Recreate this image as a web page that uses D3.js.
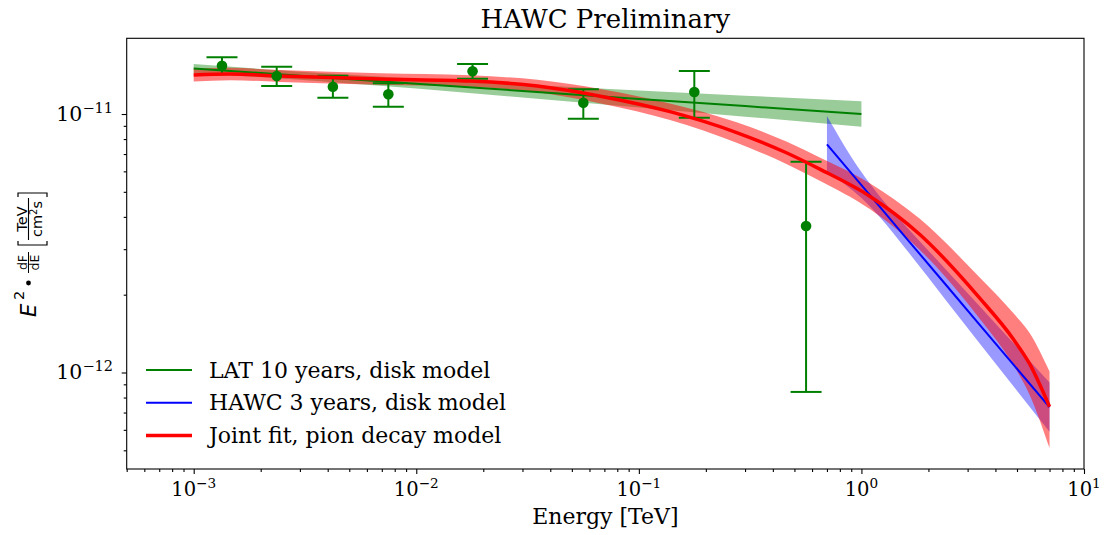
<!DOCTYPE html>
<html>
<head>
<meta charset="utf-8">
<script src="https://cdn.jsdelivr.net/npm/d3@7"></script>
<style>
  body { margin: 0; background: #fff; }
  text { font-family: "DejaVu Serif", serif; fill: #000; }
  .math { font-family: "DejaVu Sans", sans-serif; }
</style>
</head>
<body>
<svg id="chart" width="1107" height="535"></svg>
<script>
// LAT flux points (TeV, TeV cm^-2 s^-1)
var latE   = [1.34e-3, 2.36e-3, 4.22e-3, 7.49e-3, 1.79e-2, 5.63e-2, 0.1775, 0.564];
var latF   = [1.538e-11, 1.403e-11, 1.275e-11, 1.192e-11, 1.463e-11, 1.106e-11, 1.216e-11, 3.69e-12];
var latHi  = [1.657e-11, 1.524e-11, 1.406e-11, 1.315e-11, 1.561e-11, 1.246e-11, 1.466e-11, 6.54e-12];
var latLo  = [1.427e-11, 1.283e-11, 1.156e-11, 1.067e-11, 1.370e-11, 9.59e-12, 9.67e-12, 8.41e-13];

// LAT 10 years, disk model
var lmE  = [0.001, 0.003, 0.01, 0.03, 0.1, 0.3, 1.0];
var lmF  = [1.500e-11, 1.406e-11, 1.310e-11, 1.228e-11, 1.144e-11, 1.073e-11, 1.000e-11];
var lmHi = [1.562e-11, 1.457e-11, 1.369e-11, 1.302e-11, 1.234e-11, 1.178e-11, 1.121e-11];
var lmLo = [1.441e-11, 1.357e-11, 1.254e-11, 1.158e-11, 1.060e-11, 9.77e-12, 8.92e-12];

// HAWC 3 years, disk model
var hwE  = [0.7, 1.0, 1.2, 1.6, 2.4, 3.4, 7.0];
var hwF  = [7.63e-12, 5.31e-12, 4.41e-12, 3.29e-12, 2.18e-12, 1.529e-12, 7.34e-13];
var hwHi = [9.83e-12, 5.96e-12, 4.84e-12, 3.65e-12, 2.50e-12, 1.804e-12, 9.14e-13];
var hwLo = [5.98e-12, 4.73e-12, 4.02e-12, 2.97e-12, 1.90e-12, 1.296e-12, 5.90e-13];

// Joint fit, pion decay model
var pdE  = [0.001, 0.00146, 0.00244, 0.0069, 0.0175, 0.035, 0.069, 0.138, 0.275, 0.46, 0.65, 1.09, 1.83, 3.4, 4.8, 5.7, 7.0];
var pdF  = [1.415e-11, 1.428e-11, 1.403e-11, 1.366e-11, 1.342e-11, 1.283e-11, 1.167e-11, 1.021e-11, 8.48e-12, 7.08e-12, 6.12e-12, 4.81e-12, 3.42e-12, 1.94e-12, 1.351e-12, 1.079e-12, 7.37e-13];
var pdHi = [1.498e-11, 1.509e-11, 1.479e-11, 1.437e-11, 1.412e-11, 1.356e-11, 1.245e-11, 1.099e-11, 9.29e-12, 7.82e-12, 6.79e-12, 5.40e-12, 3.93e-12, 2.33e-12, 1.701e-12, 1.422e-12, 1.01e-12];
var pdLo = [1.336e-11, 1.351e-11, 1.331e-11, 1.298e-11, 1.276e-11, 1.214e-11, 1.094e-11, 9.49e-12, 7.74e-12, 6.41e-12, 5.52e-12, 4.29e-12, 2.98e-12, 1.614e-12, 1.073e-12, 8.19e-13, 5.10e-13];

var xMajor = [1e-3, 1e-2, 1e-1, 1e0, 1e1];
var xMajorExp = ["\u22123", "\u22122", "\u22121", "0", "1"];
var yMajor = [1e-12, 1e-11];
var yMajorExp = ["\u221212", "\u221211"];

var legendItems = [
  {label: "LAT 10 years, disk model", color: "green", w: 2},
  {label: "HAWC 3 years, disk model", color: "blue", w: 2},
  {label: "Joint fit, pion decay model", color: "red", w: 3.5}
];

// Plot area
// ==============================
var plot = {left: 126.7, right: 1084, top: 38.3, bottom: 469};
var svg = d3.select("#chart");

var x = d3.scaleLog().domain([5e-4, 10]).range([plot.left, plot.right]);
var y = d3.scaleLog().domain([4.233e-13, 1.963e-11]).range([plot.bottom, plot.top]);

function minorTicks(lo, hi) {
  var out = [];
  for (var e = lo; e <= hi; e++) {
    for (var m = 2; m <= 9; m++) out.push(m * Math.pow(10, e));
  }
  return out;
}
var xMinor = minorTicks(-4, 0).filter(v => v >= 5e-4 && v <= 10);
var yMinor = minorTicks(-13, -11).filter(v => v >= 4.233e-13 && v <= 1.963e-11);

svg.append("defs").append("clipPath").attr("id", "clip")
  .append("rect")
  .attr("x", plot.left).attr("y", plot.top)
  .attr("width", plot.right - plot.left).attr("height", plot.bottom - plot.top);

var pg = svg.append("g").attr("clip-path", "url(#clip)");

function zip(a, b, c) { return a.map((v, i) => [v, b[i], c ? c[i] : null]); }

var band = d3.area().x(d => x(d[0])).y0(d => y(d[1])).y1(d => y(d[2]));
var bandSmooth = d3.area().x(d => x(d[0])).y0(d => y(d[1])).y1(d => y(d[2])).curve(d3.curveMonotoneX);
var line = d3.line().x(d => x(d[0])).y(d => y(d[1]));
var lineSmooth = d3.line().x(d => x(d[0])).y(d => y(d[1])).curve(d3.curveMonotoneX);

// Bands
pg.append("path").attr("d", band(zip(lmE, lmLo, lmHi)))
  .attr("fill", "green").attr("fill-opacity", 0.4);
pg.append("path").attr("d", bandSmooth(zip(hwE, hwLo, hwHi)))
  .attr("fill", "blue").attr("fill-opacity", 0.4);
pg.append("path").attr("d", bandSmooth(zip(pdE, pdLo, pdHi)))
  .attr("fill", "red").attr("fill-opacity", 0.5);

// Error bars
var pts = latE.map((e, i) => ({e: e, f: latF[i], hi: latHi[i], lo: latLo[i]}));
var eb = pg.selectAll(".eb").data(pts).enter().append("g").attr("class", "eb")
  .attr("stroke", "green").attr("stroke-width", 2);
eb.append("line")
  .attr("x1", d => x(d.e)).attr("x2", d => x(d.e))
  .attr("y1", d => y(d.lo)).attr("y2", d => y(d.hi));
eb.append("line")
  .attr("x1", d => x(d.e) - 15.5).attr("x2", d => x(d.e) + 15.5)
  .attr("y1", d => y(d.lo)).attr("y2", d => y(d.lo));
eb.append("line")
  .attr("x1", d => x(d.e) - 15.5).attr("x2", d => x(d.e) + 15.5)
  .attr("y1", d => y(d.hi)).attr("y2", d => y(d.hi));

// Model lines
pg.append("path").attr("d", line(zip(lmE, lmF)))
  .attr("fill", "none").attr("stroke", "green").attr("stroke-width", 2);
pg.append("path").attr("d", line(zip(hwE, hwF)))
  .attr("fill", "none").attr("stroke", "blue").attr("stroke-width", 2);
pg.append("path").attr("d", lineSmooth(zip(pdE, pdF)))
  .attr("fill", "none").attr("stroke", "red").attr("stroke-width", 3.5);

// Markers
pg.selectAll(".pt").data(pts).enter().append("circle")
  .attr("cx", d => x(d.e)).attr("cy", d => y(d.f)).attr("r", 5.3)
  .attr("fill", "green");

// Axes
// ==============================
function styleAxis(g) {
  g.select(".domain").remove();
  g.selectAll("line").attr("stroke", "#000").attr("stroke-width", 1.1);
  g.selectAll("text").remove();
}
svg.append("g").attr("transform", `translate(0,${plot.bottom})`)
  .call(d3.axisBottom(x).tickValues(xMajor).tickSize(5).tickSizeOuter(0)).call(styleAxis);
svg.append("g").attr("transform", `translate(0,${plot.bottom})`)
  .call(d3.axisBottom(x).tickValues(xMinor).tickSize(3).tickSizeOuter(0)).call(styleAxis);
svg.append("g").attr("transform", `translate(${plot.left},0)`)
  .call(d3.axisLeft(y).tickValues(yMajor).tickSize(5).tickSizeOuter(0)).call(styleAxis);
svg.append("g").attr("transform", `translate(${plot.left},0)`)
  .call(d3.axisLeft(y).tickValues(yMinor).tickSize(3).tickSizeOuter(0)).call(styleAxis);

svg.append("rect")
  .attr("x", plot.left).attr("y", plot.top)
  .attr("width", plot.right - plot.left).attr("height", plot.bottom - plot.top)
  .attr("fill", "none").attr("stroke", "#000").attr("stroke-width", 1.1);

// Tick labels as 10^n
xMajor.forEach(function(v, i) {
  var t = svg.append("text").attr("x", x(v)).attr("y", 496)
    .attr("text-anchor", "middle").style("font-size", "19.5px");
  t.append("tspan").text("10");
  t.append("tspan").attr("dy", -8).style("font-size", "13.6px").text(xMajorExp[i]);
});
yMajor.forEach(function(v, i) {
  var t = svg.append("text").attr("x", 113).attr("y", y(v) + 7)
    .attr("text-anchor", "end").style("font-size", "20.5px");
  t.append("tspan").text("10");
  t.append("tspan").attr("dy", -8).style("font-size", "14.5px").text(yMajorExp[i]);
});

// Title and axis labels
svg.append("text").attr("x", (plot.left + plot.right) / 2).attr("y", 28)
  .attr("text-anchor", "middle").style("font-size", "26px").text("HAWC Preliminary");
svg.append("text").attr("x", (plot.left + plot.right) / 2).attr("y", 524)
  .attr("text-anchor", "middle").style("font-size", "22px").text("Energy [TeV]");

// y label: E^2 . dF/dE [TeV / cm^2 s]
var yl = svg.append("g").attr("class", "math").attr("transform", "translate(29,255) rotate(-90)");
var eT = yl.append("text").attr("class", "math").attr("x", -62).attr("y", 6.5).style("font-size", "21px");
eT.append("tspan").style("font-style", "italic").text("E");
yl.append("text").attr("class", "math").attr("x", -45).attr("y", -5).style("font-size", "14.5px").text("2");
yl.append("circle").attr("cx", -28).attr("cy", -0.5).attr("r", 2.4).attr("fill", "#000");
yl.append("text").attr("class", "math").attr("x", -7.5).attr("y", -2.5)
  .attr("text-anchor", "middle").style("font-size", "12.5px").text("dF");
yl.append("text").attr("class", "math").attr("x", -7.5).attr("y", 10)
  .attr("text-anchor", "middle").style("font-size", "12.5px").text("dE");
yl.append("line").attr("x1", -18).attr("x2", 3).attr("y1", -0.5).attr("y2", -0.5)
  .attr("stroke", "#000").attr("stroke-width", 1);
yl.append("path").attr("d", "M14,-11 L10,-11 L10,18 L14,18")
  .attr("fill", "none").attr("stroke", "#000").attr("stroke-width", 1.2);
yl.append("path").attr("d", "M58,-11 L62,-11 L62,18 L58,18")
  .attr("fill", "none").attr("stroke", "#000").attr("stroke-width", 1.2);
yl.append("text").attr("class", "math").attr("x", 36).attr("y", -2.5)
  .attr("text-anchor", "middle").style("font-size", "14.5px").text("TeV");
var den = yl.append("text").attr("class", "math").attr("x", 36).attr("y", 13)
  .attr("text-anchor", "middle").style("font-size", "14.5px");
den.append("tspan").text("cm");
den.append("tspan").attr("dy", -5).style("font-size", "10px").text("2");
den.append("tspan").attr("dy", 5).text("s");
yl.append("line").attr("x1", 15).attr("x2", 57).attr("y1", -0.5).attr("y2", -0.5)
  .attr("stroke", "#000").attr("stroke-width", 1.1);

// Legend
var lg = svg.append("g");
legendItems.forEach(function(d, i) {
  var yy = 370 + i * 32.8;
  lg.append("line").attr("x1", 146).attr("x2", 192).attr("y1", yy).attr("y2", yy)
    .attr("stroke", d.color).attr("stroke-width", d.w);
  lg.append("text").attr("x", 209).attr("y", yy + 7.5).style("font-size", "22px").text(d.label);
});
</script>
</body>
</html>
